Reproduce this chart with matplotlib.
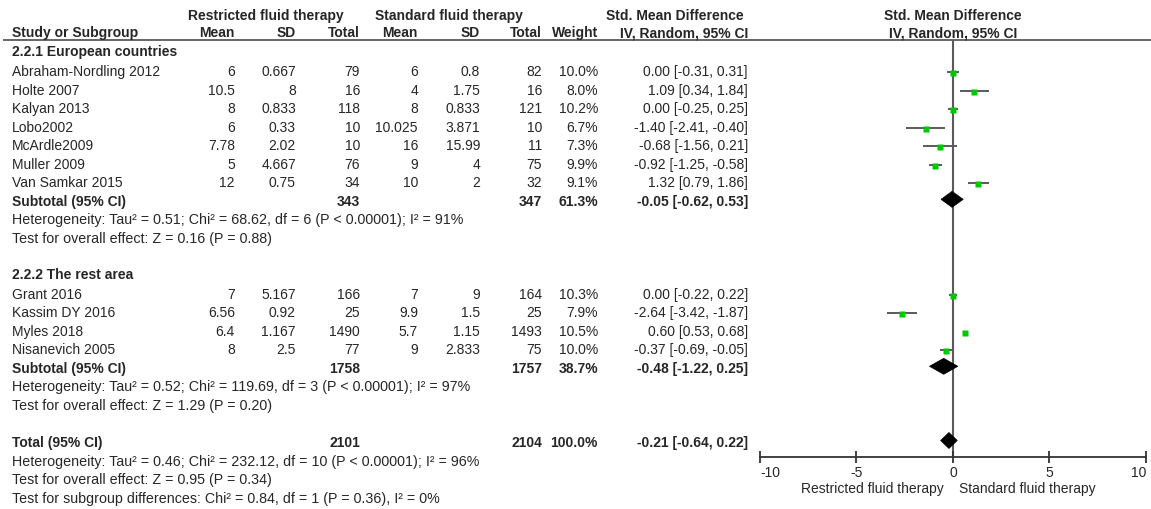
import matplotlib.pyplot as plt
from matplotlib.patches import Polygon

plt.rcParams['font.family'] = ['Liberation Sans', 'DejaVu Sans']

# study level data
studies = ["Abraham-Nordling 2012", "Holte 2007", "Kalyan 2013", "Lobo2002",
           "McArdle2009", "Muller 2009", "Van Samkar 2015",
           "Grant 2016", "Kassim DY 2016", "Myles 2018", "Nisanevich 2005"]
group = [1, 1, 1, 1, 1, 1, 1, 2, 2, 2, 2]
r_mean = [6, 10.5, 8, 6, 7.78, 5, 12, 7, 6.56, 6.4, 8]
r_sd = [0.667, 8, 0.833, 0.33, 2.02, 4.667, 0.75, 5.167, 0.92, 1.167, 2.5]
r_n = [79, 16, 118, 10, 10, 76, 34, 166, 25, 1490, 77]
s_mean = [6, 4, 8, 10.025, 16, 9, 10, 7, 9.9, 5.7, 9]
s_sd = [0.8, 1.75, 0.833, 3.871, 15.99, 4, 2, 9, 1.5, 1.15, 2.833]
s_n = [82, 16, 121, 10, 11, 75, 32, 164, 25, 1493, 75]
weight = [10.0, 8.0, 10.2, 6.7, 7.3, 9.9, 9.1, 10.3, 7.9, 10.5, 10.0]
smd = [0.00, 1.09, 0.00, -1.40, -0.68, -0.92, 1.32, 0.00, -2.64, 0.60, -0.37]
ci_lo = [-0.31, 0.34, -0.25, -2.41, -1.56, -1.25, 0.79, -0.22, -3.42, 0.53, -0.69]
ci_hi = [0.31, 1.84, 0.25, -0.40, 0.21, -0.58, 1.86, 0.22, -1.87, 0.68, -0.05]

# pooled results: subgroup 1, subgroup 2, overall
pool_label = ["Subtotal (95% CI)", "Subtotal (95% CI)", "Total (95% CI)"]
pool_rn = [343, 1758, 2101]
pool_sn = [347, 1757, 2104]
pool_w = [61.3, 38.7, 100.0]
pool_est = [-0.05, -0.48, -0.21]
pool_lo = [-0.62, -1.22, -0.64]
pool_hi = [0.53, 0.25, 0.22]

group_titles = ["2.2.1 European countries", "2.2.2 The rest area"]
het_text = [
    "Heterogeneity: Tau² = 0.51; Chi² = 68.62, df = 6 (P < 0.00001); I² = 91%",
    "Heterogeneity: Tau² = 0.52; Chi² = 119.69, df = 3 (P < 0.00001); I² = 97%",
    "Heterogeneity: Tau² = 0.46; Chi² = 232.12, df = 10 (P < 0.00001); I² = 96%",
]
effect_text = [
    "Test for overall effect: Z = 0.16 (P = 0.88)",
    "Test for overall effect: Z = 1.29 (P = 0.20)",
    "Test for overall effect: Z = 0.95 (P = 0.34)",
]
subgroup_text = "Test for subgroup differences: Chi² = 0.84, df = 1 (P = 0.36), I² = 0%"

xticks = [-10, -5, 0, 5, 10]
favours = ["Restricted fluid therapy", "Standard fluid therapy"]

TXT = '#262626'
LINE = '#5a5a5a'
FS = 10
FS_NOTE = 10.3

fig = plt.figure(figsize=(11.51, 5.09), dpi=100)
tax = fig.add_axes([0, 0, 1, 1])
tax.set_xlim(0, 1151)
tax.set_ylim(509, 0)
tax.axis('off')

x0, x1 = 760, 1146
fax = fig.add_axes([x0 / 1151, 0, (x1 - x0) / 1151, 1])
fax.set_xlim(-10, 10)
fax.set_ylim(509, 0)
fax.patch.set_alpha(0)


def row_y(k):
    return 72 + 18.55 * k


# column right edges
cols = [235, 296, 360, 418, 480, 542, 598, 748]

# headers
tax.text(266, 16, "Restricted fluid therapy", ha='center', va='center',
         fontsize=FS, fontweight='bold', color=TXT)
tax.text(449, 16, "Standard fluid therapy", ha='center', va='center',
         fontsize=FS, fontweight='bold', color=TXT)
tax.text(675, 16, "Std. Mean Difference", ha='center', va='center',
         fontsize=FS, fontweight='bold', color=TXT)
tax.text(953, 16, "Std. Mean Difference", ha='center', va='center',
         fontsize=FS, fontweight='bold', color=TXT)
tax.text(953, 33, "IV, Random, 95% CI", ha='center', va='center',
         fontsize=FS, fontweight='bold', color=TXT)
tax.text(12, 33, "Study or Subgroup", ha='left', va='center',
         fontsize=FS, fontweight='bold', color=TXT)
for xc, h in zip(cols, ["Mean", "SD", "Total", "Mean", "SD", "Total", "Weight",
                        "IV, Random, 95% CI"]):
    tax.text(xc, 33, h, ha='right', va='center', fontsize=FS,
             fontweight='bold', color=TXT)
tax.hlines(39.5, 3, 1151, color=LINE, lw=1.3)

# row index of each block
study_rows = [0, 1, 2, 3, 4, 5, 6, 12, 13, 14, 15]
pool_rows = [7, 16, 20]
title_rows = [-1, 11]
het_rows = [8, 17, 21]
effect_rows = [9, 18, 22]

for k, t in zip(title_rows, group_titles):
    tax.text(12, row_y(k) - 1.5, t, ha='left', va='center', fontsize=FS,
             fontweight='bold', color=TXT)

for i, name in enumerate(studies):
    y = row_y(study_rows[i])
    tax.text(12, y, name, ha='left', va='center', fontsize=FS, color=TXT)
    vals = [f"{r_mean[i]:g}", f"{r_sd[i]:g}", f"{r_n[i]}",
            f"{s_mean[i]:g}", f"{s_sd[i]:g}", f"{s_n[i]}",
            f"{weight[i]:.1f}%",
            f"{smd[i]:.2f} [{ci_lo[i]:.2f}, {ci_hi[i]:.2f}]"]
    for xc, v in zip(cols, vals):
        tax.text(xc, y, v, ha='right', va='center', fontsize=FS, color=TXT)
    fax.hlines(y, ci_lo[i], ci_hi[i], color=LINE, lw=1.4, zorder=2)
    fax.plot(smd[i], y + 1, marker='s', ms=4, color='#00c800', mec='none',
             zorder=3)

for j in range(3):
    y = row_y(pool_rows[j])
    tax.text(12, y, pool_label[j], ha='left', va='center', fontsize=FS,
             fontweight='bold', color=TXT)
    vals = [f"{pool_rn[j]}", f"{pool_sn[j]}", f"{pool_w[j]:.1f}%",
            f"{pool_est[j]:.2f} [{pool_lo[j]:.2f}, {pool_hi[j]:.2f}]"]
    for xc, v in zip([cols[2], cols[5], cols[6], cols[7]], vals):
        tax.text(xc, y, v, ha='right', va='center', fontsize=FS,
                 fontweight='bold', color=TXT)
    yd = y - 2.5
    fax.add_patch(Polygon([(pool_lo[j], yd), (pool_est[j], yd - 8),
                           (pool_hi[j], yd), (pool_est[j], yd + 8)],
                          closed=True, fc='black', ec='black', lw=0.5,
                          zorder=4))
    tax.text(12, row_y(het_rows[j]), het_text[j], ha='left', va='center',
             fontsize=FS_NOTE, color=TXT)
    tax.text(12, row_y(effect_rows[j]), effect_text[j], ha='left',
             va='center', fontsize=FS_NOTE, color=TXT)

tax.text(12, row_y(23), subgroup_text, ha='left', va='center',
         fontsize=FS_NOTE, color=TXT)

# line of no effect and scale
fax.vlines(0, 39.5, 457, color=LINE, lw=1.5, zorder=1)
for s in ['top', 'right', 'left']:
    fax.spines[s].set_visible(False)
fax.spines['bottom'].set_position(('data', 457))
fax.spines['bottom'].set_color('#333333')
fax.spines['bottom'].set_linewidth(1.3)
fax.set_yticks([])
fax.set_xticks(xticks)
fax.set_xticklabels([f"{t}" for t in xticks])
fax.tick_params(axis='x', direction='inout', length=9, width=1.3,
                colors='#333333', labelsize=FS, pad=2, labelcolor=TXT)
tick_labels = fax.get_xticklabels()
tick_labels[0].set_ha('left')
tick_labels[-1].set_ha('right')
fax.text(-0.5, 489, favours[0], ha='right', va='center', fontsize=FS,
         color=TXT)
fax.text(0.3, 489, favours[1], ha='left', va='center', fontsize=FS,
         color=TXT)

fig.savefig('out.png', dpi=100)
